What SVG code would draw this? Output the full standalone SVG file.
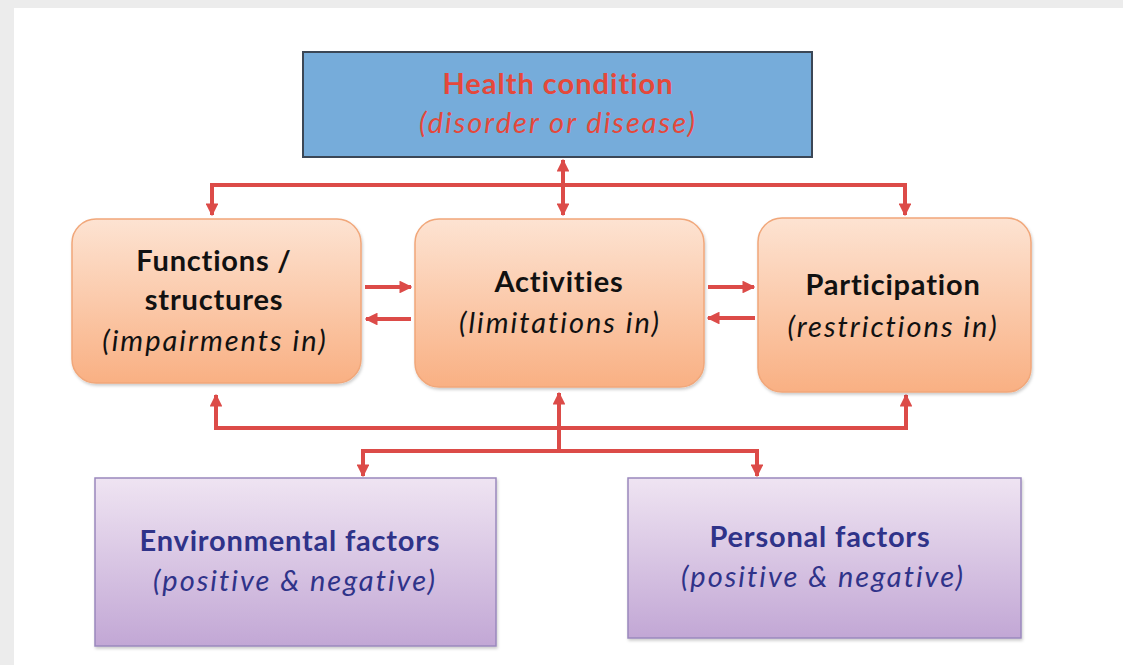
<svg xmlns="http://www.w3.org/2000/svg" width="1123" height="665" viewBox="0 0 1123 665">
<defs>
<linearGradient id="og" x1="0" y1="0" x2="0" y2="1"><stop offset="0" stop-color="#fde3d2"/><stop offset="1" stop-color="#f9b083"/></linearGradient>
<linearGradient id="pg" x1="0" y1="0" x2="0" y2="1"><stop offset="0" stop-color="#efe4f2"/><stop offset="1" stop-color="#c2a7d5"/></linearGradient>
<filter id="sh" x="-5%" y="-5%" width="110%" height="115%"><feDropShadow dx="1" dy="2" stdDeviation="1.5" flood-color="#000" flood-opacity="0.2"/></filter>
<marker id="ah" viewBox="0 0 10 10" refX="9" refY="5" markerWidth="3.2" markerHeight="3.2" orient="auto-start-reverse"><path d="M0,0 L10,5 L0,10 z" fill="#dc4b48"/></marker>
</defs>
<style>
.ln{fill:none;stroke:#dc4b48;stroke-width:4}
.ob{fill:url(#og);stroke:#f1a77a;stroke-width:1.5;filter:url(#sh)}
.pb{fill:url(#pg);stroke:#9a88bd;stroke-width:1.5;filter:url(#sh)}
text{font-family:Lato,"Open Sans","Liberation Sans",sans-serif;text-anchor:middle}
.b{font-weight:bold;font-size:29px;letter-spacing:0.8px}
.i{font-style:italic;font-size:29px;letter-spacing:2px}
.k{fill:#111}
.r{fill:#e5483a}
.u{fill:#2f3389}
</style>
<rect x="0" y="0" width="1123" height="665" fill="#ececec"/>
<rect x="14" y="8" width="1109" height="657" fill="#fff"/>

<g id="connectors">
<polyline class="ln" points="212,215 212,185 905,185 905,215" marker-start="url(#ah)" marker-end="url(#ah)"/>
<line class="ln" x1="563" y1="160" x2="563" y2="215" marker-start="url(#ah)" marker-end="url(#ah)"/>
<line class="ln" x1="365" y1="287" x2="411" y2="287" marker-end="url(#ah)"/>
<line class="ln" x1="411" y1="319" x2="366" y2="319" marker-end="url(#ah)"/>
<line class="ln" x1="708" y1="287" x2="754" y2="287" marker-end="url(#ah)"/>
<line class="ln" x1="755" y1="318" x2="708" y2="318" marker-end="url(#ah)"/>
<polyline class="ln" points="216,395 216,428 906,428 906,395" marker-start="url(#ah)" marker-end="url(#ah)"/>
<line class="ln" x1="559" y1="451" x2="559" y2="393" marker-end="url(#ah)"/>
<polyline class="ln" points="363,476 363,451 757,451 757,476" marker-start="url(#ah)" marker-end="url(#ah)"/>
</g>

<g id="health">
<rect x="303" y="52" width="509" height="105" fill="#76acda" stroke="#3b4756" stroke-width="2"/>
<text class="b r" x="558" y="94" style="letter-spacing:1px">Health condition</text>
<text class="i r" x="558" y="133">(disorder or disease)</text>
</g>

<g id="functions">
<rect class="ob" x="72" y="219" width="289" height="164" rx="24"/>
<text class="b k" x="214" y="271">Functions /</text>
<text class="b k" x="214" y="310">structures</text>
<text class="i k" x="215" y="351">(impairments in)</text>
</g>

<g id="activities">
<rect class="ob" x="415" y="219" width="289" height="168" rx="24"/>
<text class="b k" x="559" y="292">Activities</text>
<text class="i k" x="560" y="333">(limitations in)</text>
</g>

<g id="participation">
<rect class="ob" x="758" y="218" width="273" height="174" rx="24"/>
<text class="b k" x="893" y="295">Participation</text>
<text class="i k" x="893" y="337">(restrictions in)</text>
</g>

<g id="environmental">
<rect class="pb" x="95" y="478" width="401" height="168"/>
<text class="b u" x="290" y="551">Environmental factors</text>
<text class="i u" x="295" y="591">(positive &amp; negative)</text>
</g>

<g id="personal">
<rect class="pb" x="628" y="478" width="393" height="160"/>
<text class="b u" x="820" y="547">Personal factors</text>
<text class="i u" x="823" y="587">(positive &amp; negative)</text>
</g>
</svg>
